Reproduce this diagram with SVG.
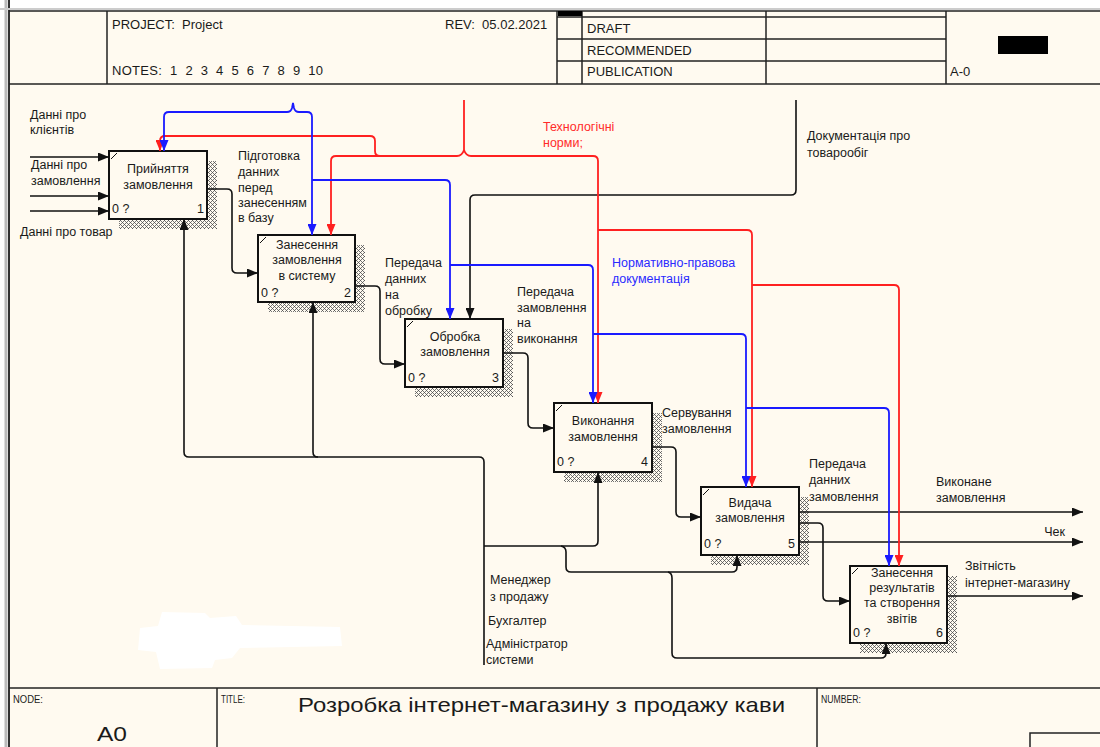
<svg xmlns="http://www.w3.org/2000/svg" width="1100" height="747" viewBox="0 0 1100 747">
<defs>
<style>
text{font-family:"Liberation Sans",Arial,sans-serif;font-size:12.5px;fill:#1a1a1a}
.hd{font-size:13px}
.small{font-size:10px}
.c{text-anchor:middle}
.e{text-anchor:end}
.red{fill:#ff2a2a}
.blue{fill:#2a2aff}
.frame{fill:none;stroke:#222;stroke-width:1.5}
.box{fill:#fffaf0;stroke:#111;stroke-width:2}
.sh{fill:url(#hatch)}
.k{fill:none;stroke:#111;stroke-width:1.6}
.r{fill:none;stroke:#ff2020;stroke-width:1.8}
.b{fill:none;stroke:#1a1aff;stroke-width:1.8}
.ka{marker-end:url(#ak)}
.ra{marker-end:url(#ar)}
.ba{marker-end:url(#ab)}
</style>
<pattern id="hatch" width="4" height="4" patternUnits="userSpaceOnUse">
<rect width="4" height="4" fill="#fffaf0"/>
<rect x="0" y="0" width="1" height="1" fill="#555"/>
<rect x="1" y="1" width="1" height="1" fill="#777"/>
<rect x="2" y="2" width="1" height="1" fill="#555"/>
<rect x="3" y="1" width="1" height="1" fill="#777"/>
<rect x="1" y="3" width="1" height="1" fill="#777"/>
<rect x="3" y="3" width="1" height="1" fill="#777"/>
</pattern>
<marker id="ak" markerUnits="userSpaceOnUse" viewBox="0 0 11 9" refX="11" refY="4.5" markerWidth="11" markerHeight="9" orient="auto"><path d="M0,0 L11,4.5 L0,9 z" fill="#111"/></marker>
<marker id="ar" markerUnits="userSpaceOnUse" viewBox="0 0 11 9" refX="11" refY="4.5" markerWidth="11" markerHeight="9" orient="auto"><path d="M0,0 L11,4.5 L0,9 z" fill="#ff2020"/></marker>
<marker id="ab" markerUnits="userSpaceOnUse" viewBox="0 0 11 9" refX="11" refY="4.5" markerWidth="11" markerHeight="9" orient="auto"><path d="M0,0 L11,4.5 L0,9 z" fill="#1a1aff"/></marker>
</defs>

<rect x="0" y="0" width="1100" height="747" fill="#ffffff"/>
<rect x="10" y="11" width="1090" height="736" fill="#fffaf0"/>

<g id="frame">
<line x1="6" y1="0" x2="6" y2="747" stroke="#bbb" stroke-width="3"/>
<line x1="9" y1="0" x2="9" y2="747" stroke="#333" stroke-width="2"/>
<line x1="0" y1="9" x2="1100" y2="9" stroke="#ccc" stroke-width="2"/>
<line x1="9" y1="11" x2="1100" y2="11" class="frame"/>
<line x1="9" y1="84" x2="1100" y2="84" class="frame"/>
<line x1="107" y1="11" x2="107" y2="84" class="frame"/>
<line x1="557" y1="11" x2="557" y2="84" class="frame"/>
<line x1="582" y1="11" x2="582" y2="84" class="frame"/>
<line x1="766" y1="11" x2="766" y2="84" class="frame"/>
<line x1="946" y1="11" x2="946" y2="84" class="frame"/>
<line x1="557" y1="17" x2="946" y2="17" class="frame"/>
<line x1="557" y1="39" x2="946" y2="39" class="frame"/>
<line x1="557" y1="61" x2="946" y2="61" class="frame"/>
<rect x="558" y="11" width="24" height="5" fill="#000"/>
<rect x="998" y="36" width="50" height="18" fill="#000"/>
<text x="112" y="29" class="hd" xml:space="preserve">PROJECT:  Project</text>
<text x="445" y="29" class="hd" xml:space="preserve">REV:  05.02.2021</text>
<text x="112" y="75" class="hd" xml:space="preserve" textLength="211" lengthAdjust="spacing">NOTES:  1  2  3  4  5  6  7  8  9  10</text>
<text x="587" y="33" class="hd">DRAFT</text>
<text x="587" y="55" class="hd">RECOMMENDED</text>
<text x="587" y="76" class="hd">PUBLICATION</text>
<text x="950" y="76" class="hd">A-0</text>
<line x1="9" y1="688" x2="1100" y2="688" class="frame"/>
<line x1="217" y1="688" x2="217" y2="747" class="frame"/>
<line x1="817" y1="688" x2="817" y2="747" class="frame"/>
<polyline points="1030,747 1030,733 1100,733" class="frame"/>
<text x="13" y="703" class="small" textLength="30" lengthAdjust="spacingAndGlyphs">NODE:</text>
<text x="221" y="703" class="small" textLength="24" lengthAdjust="spacingAndGlyphs">TITLE:</text>
<text x="821" y="703" class="small" textLength="40" lengthAdjust="spacingAndGlyphs">NUMBER:</text>
<text x="97" y="741" style="font-size:21px" textLength="30" lengthAdjust="spacingAndGlyphs">A0</text>
<text x="298" y="712" style="font-size:21px" textLength="487" lengthAdjust="spacingAndGlyphs">Розробка інтернет-магазину з продажу кави</text>
</g>

<path d="M140 628 L158 626 L162 612 L205 613 L210 618 L236 616 L242 625 L340 627 L342 646 L240 648 L232 658 L215 660 L212 668 L160 669 L156 652 L138 650 Z" fill="#ffffff"/>

<g id="node1">
<rect class="sh" x="119" y="161" width="98" height="68"/>
<rect class="box" x="109" y="151" width="98" height="68"/>
<line x1="111" y1="159" x2="117" y2="153" stroke="#111" stroke-width="1"/>
<text x="158" y="173" class="c">Прийняття</text>
<text x="158" y="189" class="c">замовлення</text>
<text x="112" y="213">0 ?</text>
<text x="204" y="213" class="e">1</text>
</g>
<g id="node2">
<rect class="sh" x="268" y="245" width="97" height="67"/>
<rect class="box" x="258" y="235" width="97" height="67"/>
<line x1="260" y1="243" x2="266" y2="237" stroke="#111" stroke-width="1"/>
<text x="307" y="249" class="c">Занесення</text>
<text x="307" y="264" class="c">замовлення</text>
<text x="307" y="280" class="c">в систему</text>
<text x="261" y="297">0 ?</text>
<text x="351" y="297" class="e">2</text>
</g>
<g id="node3">
<rect class="sh" x="415" y="329" width="98" height="68"/>
<rect class="box" x="405" y="319" width="98" height="68"/>
<line x1="407" y1="327" x2="413" y2="321" stroke="#111" stroke-width="1"/>
<text x="455" y="341" class="c">Обробка</text>
<text x="455" y="356" class="c">замовлення</text>
<text x="408" y="382">0 ?</text>
<text x="499" y="382" class="e">3</text>
</g>
<g id="node4">
<rect class="sh" x="564" y="413" width="98" height="69"/>
<rect class="box" x="554" y="403" width="98" height="69"/>
<line x1="556" y1="411" x2="562" y2="405" stroke="#111" stroke-width="1"/>
<text x="603" y="425" class="c">Виконання</text>
<text x="603" y="441" class="c">замовлення</text>
<text x="557" y="466">0 ?</text>
<text x="648" y="466" class="e">4</text>
</g>
<g id="node5">
<rect class="sh" x="711" y="497" width="98" height="68"/>
<rect class="box" x="701" y="487" width="98" height="68"/>
<line x1="703" y1="495" x2="709" y2="489" stroke="#111" stroke-width="1"/>
<text x="750" y="507" class="c">Видача</text>
<text x="750" y="522" class="c">замовлення</text>
<text x="704" y="548">0 ?</text>
<text x="795" y="548" class="e">5</text>
</g>
<g id="node6">
<rect class="sh" x="860" y="576" width="97" height="77"/>
<rect class="box" x="850" y="566" width="97" height="77"/>
<line x1="852" y1="574" x2="858" y2="568" stroke="#111" stroke-width="1"/>
<text x="902" y="577" class="c">Занесення</text>
<text x="902" y="592" class="c">результатів</text>
<text x="902" y="607" class="c">та створення</text>
<text x="902" y="623" class="c">звітів</text>
<text x="853" y="637">0 ?</text>
<text x="943" y="637" class="e">6</text>
</g>

<g id="connectors">
<path class="k ka" d="M30 157 H109"/>
<path class="k ka" d="M30 196 H109"/>
<path class="k ka" d="M30 211 H109"/>
<path class="k ka" d="M207 189 H227 Q232 189 232 194 V268 Q232 273 237 273 H258"/>
<path class="k ka" d="M355 286 H375 Q380 286 380 291 V359 Q380 364 385 364 H405"/>
<path class="k ka" d="M503 353 H523 Q528 353 528 358 V423 Q528 428 533 428 H554"/>
<path class="k ka" d="M652 447 H671 Q676 447 676 452 V512 Q676 517 681 517 H701"/>
<path class="k ka" d="M799 512 H1083"/>
<path class="k ka" d="M799 523 H818 Q823 523 823 528 V596 Q823 601 828 601 H850"/>
<path class="k ka" d="M799 542 H1083"/>
<path class="k ka" d="M947 596 H1083"/>
<path class="k ka" d="M796 100 V190 Q796 195 791 195 H475 Q470 195 470 200 V319"/>
<path class="k ka" d="M484 665 V462 Q484 457 479 457 H189 Q184 457 184 452 V219"/>
<path class="k ka" d="M318 457 Q313 457 313 452 V302"/>
<path class="k ka" d="M484 546 H593 Q598 546 598 541 V472"/>
<path class="k ka" d="M561 546 Q566 547 566 552 V567 Q566 572 571 572 H732 Q737 572 737 567 V555"/>
<path class="k ka" d="M668 572 Q672 573 672 578 V653 Q672 658 677 658 H881 Q886 658 886 653 V643"/>
<path class="r" d="M464 100 V150"/>
<path class="r ra" d="M464 150 Q466 156 471 156 H593 Q598 156 598 161 V403"/>
<path class="r ra" d="M464 150 Q462 156 457 156 H336 Q331 156 331 161 V235"/>
<path class="r ra" d="M380 156 Q375 156 375 151 V141 Q375 136 370 136 H165 Q160 136 160 141 V151"/>
<path class="r ra" d="M598 230 H747 Q752 230 752 235 V487"/>
<path class="r ra" d="M752 285 H894 Q899 285 899 290 V566"/>
<path class="b ba" d="M299 112 H307 Q312 112 312 117 V235"/>
<path class="b ba" d="M299 112 Q295 112 294 108 L293 103 L292 108 Q291 112 287 112 H169 Q164 112 164 117 V151"/>
<path class="b ba" d="M312 180 H445 Q450 180 450 185 V319"/>
<path class="b ba" d="M450 265 H588 Q593 265 593 270 V403"/>
<path class="b ba" d="M593 334 H741 Q746 334 746 339 V487"/>
<path class="b ba" d="M746 408 H884 Q889 408 889 413 V566"/>
</g>

<g id="labels">
<text x="30" y="119">Данні про</text>
<text x="30" y="134">клієнтів</text>
<text x="31" y="169">Данні про</text>
<text x="31" y="185">замовлення</text>
<text x="20" y="236">Данні про товар</text>
<text x="238" y="160">Підготовка</text>
<text x="238" y="176">данних</text>
<text x="238" y="192">перед</text>
<text x="238" y="207">занесенням</text>
<text x="238" y="222">в базу</text>
<text x="385" y="267">Передача</text>
<text x="385" y="283">данних</text>
<text x="385" y="299">на</text>
<text x="385" y="315">обробку</text>
<text x="543" y="131" class="red">Технологічні</text>
<text x="543" y="147" class="red">норми;</text>
<text x="807" y="140">Документація про</text>
<text x="807" y="157">товарообіг</text>
<text x="612" y="267" class="blue">Нормативно-правова</text>
<text x="612" y="283" class="blue">документація</text>
<text x="517" y="296">Передача</text>
<text x="517" y="312">замовлення</text>
<text x="517" y="327">на</text>
<text x="517" y="343">виконання</text>
<text x="662" y="417">Сервування</text>
<text x="662" y="433">замовлення</text>
<text x="809" y="468">Передача</text>
<text x="809" y="484">данних</text>
<text x="809" y="501">замовлення</text>
<text x="936" y="486">Виконане</text>
<text x="936" y="502">замовлення</text>
<text x="1065" y="536" class="e">Чек</text>
<text x="965" y="570">Звітність</text>
<text x="965" y="587">інтернет-магазину</text>
<text x="490" y="584">Менеджер</text>
<text x="490" y="601">з продажу</text>
<text x="488" y="625">Бухгалтер</text>
<text x="486" y="648">Адміністратор</text>
<text x="486" y="664">системи</text>
</g>
</svg>
